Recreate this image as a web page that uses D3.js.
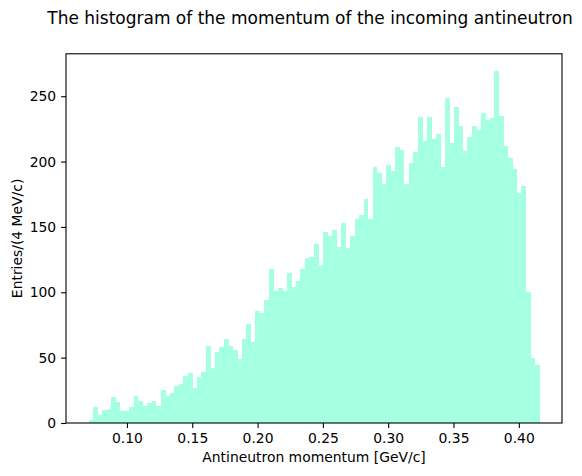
<!DOCTYPE html>
<html>
<head>
<meta charset="utf-8">
<script src="https://cdn.jsdelivr.net/npm/d3@7"></script>
<style>
  html, body { margin: 0; padding: 0; background: #fff; }
  svg { display: block; font-family: "DejaVu Sans", sans-serif; }
</style>
</head>
<body>
<svg id="chart" width="582" height="476"></svg>
<script>
// ---- data ----
const binStart = 0.0706;
const binWidth = 0.003452;
const counts = [
  2, 12, 6, 10, 11, 20, 16, 9, 9, 12,
  21, 17, 13, 15, 17, 13, 25, 21, 23, 28,
  30, 36, 38, 27, 35, 39, 59, 42, 54, 58,
  64, 59, 56, 49, 64, 76, 62, 86, 84, 94,
  118, 101, 103, 101, 115, 104, 109, 118, 126, 127,
  137, 121, 146, 143, 148, 135, 153, 134, 143, 156,
  159, 171, 156, 196, 191, 183, 197, 193, 211, 209,
  183, 199, 207, 234, 216, 234, 217, 221, 196, 249,
  214, 242, 227, 208, 219, 227, 224, 237, 232, 233,
  269, 235, 212, 203, 194, 176, 181, 100, 50, 44
];
const xTicks = [0.10, 0.15, 0.20, 0.25, 0.30, 0.35, 0.40];
const yTicks = [0, 50, 100, 150, 200, 250];
const title = "The histogram of the momentum of the incoming antineutron";
const xLabel = "Antineutron momentum [GeV/c]";
const yLabel = "Entries/(4 MeV/c)";

(function () {
  // ---- layout ----
  const mLeft = 66, mRight = 562, mTop = 53.8, mBottom = 423.0;
  const svg = d3.select("#chart");

  const bins = counts.map((c, i) => ({ x0: binStart + i * binWidth, x1: binStart + (i + 1) * binWidth, n: c }));
  const xMin = binStart, xMax = binStart + counts.length * binWidth;
  const xPad = (xMax - xMin) * 0.05;
  const x = d3.scaleLinear().domain([xMin - xPad, xMax + xPad]).range([mLeft, mRight]);
  const y = d3.scaleLinear().domain([0, d3.max(counts) * 1.05]).range([mBottom, mTop]);

  // bars
  svg.append("g")
    .selectAll("rect")
    .data(bins)
    .join("rect")
    .attr("x", d => x(d.x0))
    .attr("width", d => x(d.x1) - x(d.x0) + 0.3)
    .attr("y", d => y(d.n))
    .attr("height", d => y(0) - y(d.n))
    .attr("fill", "#a5ffe1")
    .attr("shape-rendering", "crispEdges");

  // axes
  const xAxis = d3.axisBottom(x).tickValues(xTicks).tickFormat(d3.format(".2f")).tickSize(4.9).tickPadding(4.9);
  const yAxis = d3.axisLeft(y).tickValues(yTicks).tickFormat(d3.format("d")).tickSize(4.9).tickPadding(4.9);

  const gx = svg.append("g").attr("transform", `translate(0,${mBottom})`).call(xAxis);
  const gy = svg.append("g").attr("transform", `translate(${mLeft},0)`).call(yAxis);
  [gx, gy].forEach(g => {
    g.select(".domain").remove();
    g.selectAll(".tick line").attr("stroke", "#000").attr("stroke-width", 1.1);
    g.selectAll(".tick text").attr("fill", "#000").style("font-size", "13.9px").style("font-family", "DejaVu Sans, sans-serif");
  });

  // frame
  svg.append("rect")
    .attr("x", mLeft).attr("y", mTop)
    .attr("width", mRight - mLeft).attr("height", mBottom - mTop)
    .attr("fill", "none").attr("stroke", "#000").attr("stroke-width", 1.1);

  // labels
  svg.append("text")
    .attr("x", 310).attr("y", 24)
    .attr("text-anchor", "middle")
    .style("font-size", "17px")
    .text(title);

  svg.append("text")
    .attr("x", (mLeft + mRight) / 2).attr("y", 462)
    .attr("text-anchor", "middle")
    .style("font-size", "13.9px")
    .text(xLabel);

  svg.append("text")
    .attr("transform", `translate(21.5,${(mTop + mBottom) / 2}) rotate(-90)`)
    .attr("text-anchor", "middle")
    .style("font-size", "13.9px")
    .text(yLabel);
})();
</script>
</body>
</html>
